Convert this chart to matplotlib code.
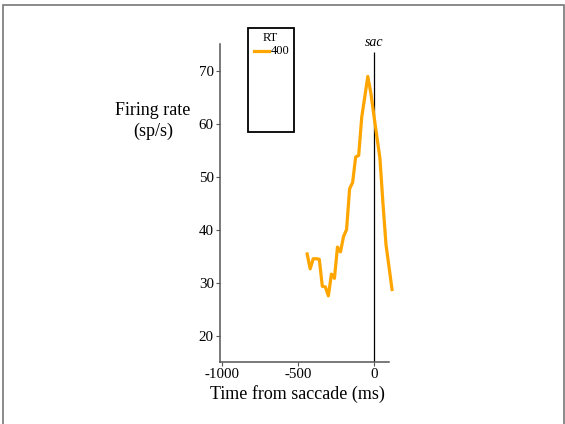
import numpy as np
import matplotlib
matplotlib.use("Agg")
import matplotlib.pyplot as plt
from matplotlib.patches import Rectangle
from matplotlib.lines import Line2D

plt.rcParams['font.family'] = ['Liberation Serif', 'DejaVu Serif']

# firing rate for RT = 400 ms, aligned on saccade
time_ms = [-440, -420, -400, -380, -360, -340, -320, -300, -280, -260,
           -240, -220, -200, -180, -160, -140, -120, -100, -80, -60,
           -40, -20, 0, 20, 40, 60, 80, 100, 120]
rate = [35.4, 32.6, 34.5, 34.5, 34.4, 29.3, 29.2, 27.5, 31.6, 30.8,
        36.7, 35.8, 38.7, 40.0, 47.7, 48.9, 53.7, 54.0, 61.2, 65.0,
        68.9, 65.8, 61.6, 57.5, 53.5, 45.0, 37.2, 33.0, 28.7]
rt_label = "400"
line_color = "#FFA500"

xticks = [-1000, -500, 0]
yticks = [20, 30, 40, 50, 60, 70]

fig = plt.figure(figsize=(5.65, 4.24), dpi=100)
ax = fig.add_axes([0.3894, 0.146, 0.2991, 0.750])

ax.plot(time_ms, rate, color=line_color, lw=2.3, clip_on=False, zorder=3)
ax.vlines(0, 15, 73.6, color="black", lw=0.9, zorder=2)
ax.text(0, 74.1, "sac", style="italic", ha="center", va="bottom", fontsize=10)

ax.set_xlim(-1015, 100)
ax.set_ylim(15, 75)
ax.set_xticks(xticks)
ax.set_xticklabels([str(t) for t in xticks])
ax.set_yticks(yticks)
for s in ["top", "right"]:
    ax.spines[s].set_visible(False)
for s in ["left", "bottom"]:
    ax.spines[s].set_color("#555555")
    ax.spines[s].set_linewidth(1.1)
ax.tick_params(direction="out", length=3, width=0.8, color="#555555",
               labelsize=10.8, pad=1.5)

ax.set_xlabel("Time from saccade (ms)", fontsize=13)
ax.xaxis.set_label_coords(0.456, -0.073)
fig.text(153 / 565, 1 - 121 / 424, "Firing rate\n(sp/s)", ha="center",
         va="center", fontsize=13, linespacing=1.25)

# legend box
fig.patches.append(Rectangle((248 / 565, 1 - 132 / 424), 46 / 565, 104 / 424,
                             transform=fig.transFigure, fill=False,
                             edgecolor="black", lw=1.3))
fig.text(270 / 565, 1 - 38 / 424, "RT", ha="center", va="center", fontsize=9)
fig.lines.append(Line2D([254 / 565, 269 / 565], [1 - 51 / 424, 1 - 51 / 424],
                        transform=fig.transFigure, color=line_color, lw=2.3))
fig.text(271 / 565, 1 - 51 / 424, rt_label, ha="left", va="center", fontsize=9)

# figure border
fig.patches.append(Rectangle((3 / 565, -0.01), 561 / 565, 1 - 5 / 424 + 0.01,
                             transform=fig.transFigure, fill=False,
                             edgecolor="#777777", lw=1.2))

fig.savefig("out.png", dpi=100)
